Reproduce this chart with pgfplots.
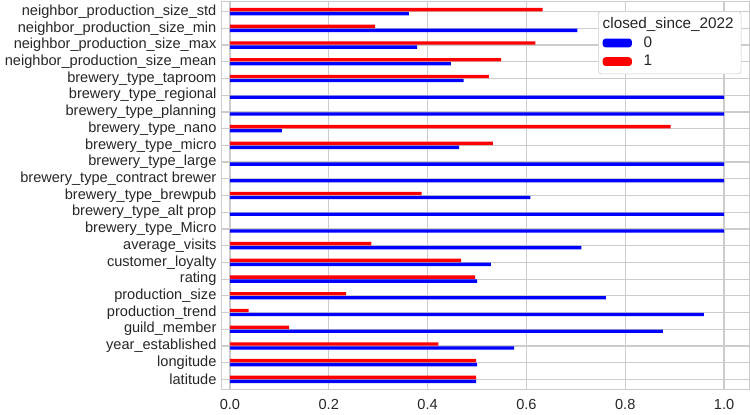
\documentclass[border=0pt]{standalone}
\usepackage{pgfplots}
\pgfplotsset{compat=1.18}
\usepackage{fontspec}
\setmainfont{Liberation Sans}
\definecolor{gridc}{HTML}{CCCCCC}
\begin{document}
\begin{tikzpicture}
\begin{axis}[
  scale only axis, width=362pt, height=266pt,
  xmin=-0.017, xmax=1.051, ymin=-0.6, ymax=22.6,
  ytick={0,...,22},
  yticklabels={latitude,longitude,year\_established,guild\_member,production\_trend,production\_size,rating,customer\_loyalty,average\_visits,brewery\_type\_Micro,brewery\_type\_alt prop,brewery\_type\_brewpub,brewery\_type\_contract brewer,brewery\_type\_large,brewery\_type\_micro,brewery\_type\_nano,brewery\_type\_planning,brewery\_type\_regional,brewery\_type\_taproom,neighbor\_production\_size\_mean,neighbor\_production\_size\_max,neighbor\_production\_size\_min,neighbor\_production\_size\_std},
  xtick={0,0.2,0.4,0.6,0.8,1.0},
  xticklabels={0.0,0.2,0.4,0.6,0.8,1.0},
  tick style={draw=none},
  major tick length=0pt,
  tick label style={font=\fontsize{10}{12}\selectfont, text=black!85},
  xticklabel style={yshift=-3pt},
  grid=major, grid style={gridc, line width=0.8pt},
  axis line style={gridc, line width=1pt},
  xbar, bar width=0.2,
  legend style={at={(0.985,0.975)}, anchor=north east, draw=gridc, rounded corners=2pt, font=\fontsize{10.5}{14}\selectfont, text=black!85, cells={anchor=west}},
  legend cell align=left,
  legend image code/.code={\fill[#1] (0pt,-3pt) rectangle (20pt,3pt);},
]
\addlegendimage{empty legend}\addlegendentry{\hspace{-22pt}closed\_since\_2022}
\addplot[fill=blue, draw=none, bar shift=-0.12] coordinates {
(0.498,0) (0.500,1) (0.575,2) (0.876,3) (0.959,4) (0.761,5) (0.500,6) (0.528,7) (0.711,8) (1.0,9) (1.0,10) (0.608,11) (1.0,12) (1.0,13) (0.464,14) (0.105,15) (1.0,16) (1.0,17) (0.473,18) (0.447,19) (0.379,20) (0.703,21) (0.362,22)};
\addlegendentry{\hspace{6pt}0}
\addplot[fill=red, draw=none, bar shift=0.12] coordinates {
(0.498,0) (0.498,1) (0.422,2) (0.120,3) (0.038,4) (0.235,5) (0.496,6) (0.468,7) (0.286,8) (0.388,11) (0.532,14) (0.892,15) (0.524,18) (0.549,19) (0.618,20) (0.294,21) (0.633,22)};
\addlegendentry{\hspace{6pt}1}
\end{axis}
\end{tikzpicture}
\end{document}
